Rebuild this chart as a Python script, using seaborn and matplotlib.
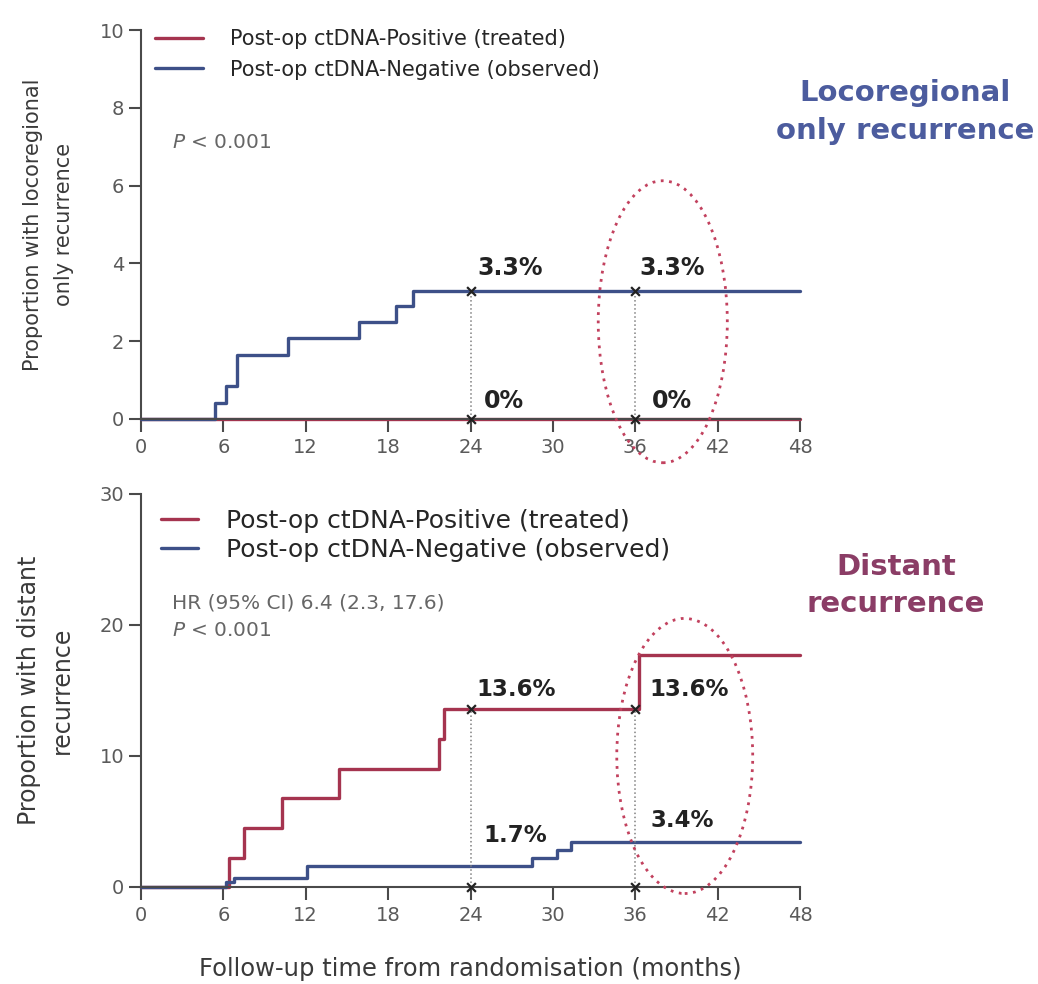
import numpy as np
import pandas as pd
import matplotlib
matplotlib.use("Agg")
import matplotlib.pyplot as plt
from matplotlib.patches import Ellipse
import seaborn as sns

sns.set_theme(style="ticks")
plt.rcParams["font.family"] = ["DejaVu Sans"]

# ---- data ----
groups = ["Post-op ctDNA-Positive (treated)", "Post-op ctDNA-Negative (observed)"]

# Locoregional only recurrence (%)
loco_pos_t = [0, 48]
loco_pos_y = [0, 0]
loco_neg_t = [0, 5.4, 6.2, 7.0, 10.7, 15.9, 18.6, 19.8, 48]
loco_neg_y = [0, 0.42, 0.85, 1.65, 2.07, 2.5, 2.9, 3.3, 3.3]

# Distant recurrence (%)
dist_pos_t = [0, 6.4, 7.5, 10.3, 14.4, 21.7, 22.1, 36.3, 48]
dist_pos_y = [0, 2.2, 4.5, 6.8, 9.0, 11.3, 13.6, 17.7, 17.7]
dist_neg_t = [0, 6.2, 6.8, 12.1, 28.5, 30.3, 31.3, 48]
dist_neg_y = [0, 0.4, 0.7, 1.6, 2.2, 2.85, 3.45, 3.45]

xticks = [0, 6, 12, 18, 24, 30, 36, 42, 48]
loco_yticks = [0, 2, 4, 6, 8, 10]
dist_yticks = [0, 10, 20, 30]

loco_marks_24 = [0, 3.3]
loco_marks_36 = [0, 3.3]
dist_marks_24 = [0, 13.6]
dist_marks_36 = [0, 13.6]

# (x, baseline y, text)
loco_labels = [(24.5, 3.7, "3.3%"), (36.3, 3.7, "3.3%"), (25.0, 0.28, "0%"), (37.2, 0.28, "0%")]
dist_labels = [(24.4, 14.6, "13.6%"), (37.0, 14.6, "13.6%"), (24.9, 3.4, "1.7%"), (37.1, 4.6, "3.4%")]

red = "#a5344f"
blue = "#3d5088"
palette = {groups[0]: red, groups[1]: blue}


def make_df(pt, py, nt, ny):
    return pd.concat([
        pd.DataFrame({"t": pt, "y": py, "group": groups[0]}),
        pd.DataFrame({"t": nt, "y": ny, "group": groups[1]}),
    ], ignore_index=True)


fig = plt.figure(figsize=(10.38, 9.84), dpi=100)
ax1 = fig.add_axes([0.1358, 0.5742, 0.635, 0.3953])
ax2 = fig.add_axes([0.1358, 0.0986, 0.635, 0.3994])

tick_color = "#5a5a5a"


def style_axis(ax, yticks, ylim):
    ax.set_xlim(0, 48)
    ax.set_ylim(*ylim)
    ax.set_xticks(xticks)
    ax.set_yticks(yticks)
    for s in ["top", "right"]:
        ax.spines[s].set_visible(False)
    for s in ["left", "bottom"]:
        ax.spines[s].set_color("#4a4a4a")
        ax.spines[s].set_linewidth(1.5)
    ax.tick_params(axis="both", direction="out", length=9, width=1.5,
                   colors="#4a4a4a", labelcolor=tick_color, labelsize=14)
    ax.tick_params(axis="x", pad=5)
    ax.tick_params(axis="y", pad=3)
    ax.set_xlabel("")


ell_color = "#c2415e"

# ---- top panel ----
df1 = make_df(loco_pos_t, loco_pos_y, loco_neg_t, loco_neg_y)
sns.lineplot(data=df1, x="t", y="y", hue="group", hue_order=groups, palette=palette,
             estimator=None, drawstyle="steps-post", linewidth=2.4, ax=ax1, clip_on=False)
style_axis(ax1, loco_yticks, (0, 10))
ax1.set_ylabel("Proportion with locoregional\nonly recurrence", fontsize=15, color="#3a3a3a",
               linespacing=1.7)
ax1.yaxis.set_label_coords(-0.102, 0.5)

for x, marks in [(24, loco_marks_24), (36, loco_marks_36)]:
    ax1.plot([x, x], [0, max(marks)], ls=":", color="#808080", lw=1.1)
    ax1.scatter([x] * len(marks), marks, marker="x", color="#222222", s=40, lw=1.6, zorder=5, clip_on=False)
for x, y, s in loco_labels:
    ax1.text(x, y, s, fontsize=17, fontweight="bold", color="#222222", ha="left", va="baseline")

ax1.text(2.26, 7.1, r"$P$ < 0.001", fontsize=14.5, color="#666666", va="center")
ell1 = Ellipse((38.0, 2.5), 9.4, 7.25, fill=False, ls=(0, (1, 2)), lw=2.0, ec=ell_color, clip_on=False, zorder=6)
ax1.add_patch(ell1)
ax1.legend(frameon=False, loc="center left", bbox_to_anchor=(0.021, 0.937), fontsize=15,
           handlelength=2.3, handletextpad=1.3, labelspacing=0.5, borderaxespad=0, borderpad=0)
fig.text(0.872, 0.886, "Locoregional\nonly recurrence", fontsize=21, fontweight="bold", color="#4c5c9e",
         ha="center", va="center", linespacing=1.45)

# ---- bottom panel ----
df2 = make_df(dist_pos_t, dist_pos_y, dist_neg_t, dist_neg_y)
sns.lineplot(data=df2, x="t", y="y", hue="group", hue_order=groups, palette=palette,
             estimator=None, drawstyle="steps-post", linewidth=2.4, ax=ax2, clip_on=False)
style_axis(ax2, dist_yticks, (0, 30))
ax2.set_ylabel("Proportion with distant\nrecurrence", fontsize=17, color="#3a3a3a", linespacing=1.45)
ax2.yaxis.set_label_coords(-0.102, 0.5)
ax2.set_xlabel("Follow-up time from randomisation (months)", fontsize=17.5, color="#3a3a3a")
ax2.xaxis.set_label_coords(0.5, -0.178)

for x, marks in [(24, dist_marks_24), (36, dist_marks_36)]:
    ax2.plot([x, x], [0, max(marks)], ls=":", color="#808080", lw=1.1)
    ax2.scatter([x] * len(marks), marks, marker="x", color="#222222", s=40, lw=1.6, zorder=5, clip_on=False)
for x, y, s in dist_labels:
    ax2.text(x, y, s, fontsize=16.5, fontweight="bold", color="#222222", ha="left", va="baseline")

ax2.text(2.26, 21.7, "HR (95% CI) 6.4 (2.3, 17.6)", fontsize=14.5, color="#666666", va="center")
ax2.text(2.26, 19.6, r"$P$ < 0.001", fontsize=14.5, color="#666666", va="center")
ell2 = Ellipse((39.6, 10.0), 9.9, 21.0, fill=False, ls=(0, (1, 2)), lw=2.0, ec=ell_color, clip_on=False, zorder=6)
ax2.add_patch(ell2)
ax2.legend(frameon=False, loc="center left", bbox_to_anchor=(0.030, 0.894), fontsize=18,
           handlelength=1.5, handletextpad=1.1, labelspacing=0.2, borderaxespad=0, borderpad=0)
fig.text(0.863, 0.405, "Distant\nrecurrence", fontsize=21, fontweight="bold", color="#8b3d66",
         ha="center", va="center", linespacing=1.45)

fig.savefig("out.png", dpi=100)
